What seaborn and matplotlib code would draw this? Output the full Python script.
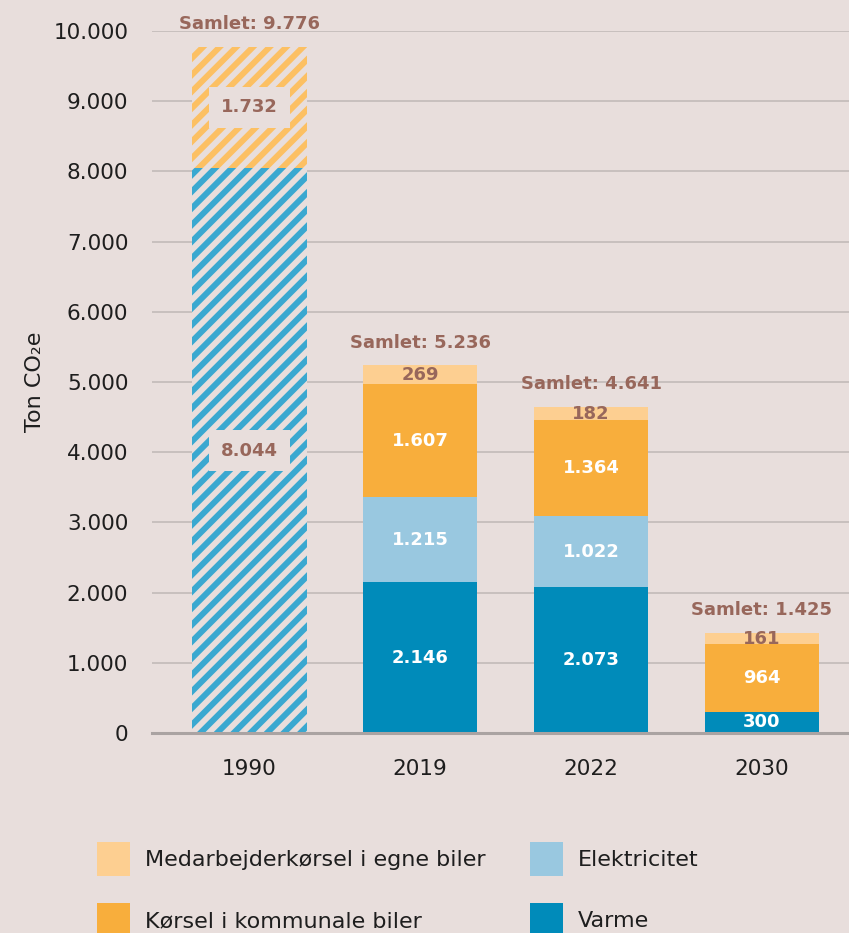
import numpy as np
import pandas as pd
import matplotlib as mpl
mpl.use("Agg")
import matplotlib.pyplot as plt
from matplotlib.patches import Patch
import seaborn as sns

# data
years = ["1990", "2019", "2022", "2030"]
stack_years = ["2019", "2022", "2030"]
varme = [2146, 2073, 300]
elektricitet = [1215, 1022, 0]
korsel = [1607, 1364, 964]
medarbejder = [269, 182, 161]
base_1990 = 8044
top_1990 = 1732
totals = [9776, 5236, 4641, 1425]

layers = ["Varme", "Elektricitet", "Kørsel i kommunale biler", "Medarbejderkørsel i egne biler"]
colors = {
    "Varme": "#008bba",
    "Elektricitet": "#99c8e0",
    "Kørsel i kommunale biler": "#f8ae3c",
    "Medarbejderkørsel i egne biler": "#fdcf91",
}
label_colors = {
    "Varme": "white",
    "Elektricitet": "white",
    "Kørsel i kommunale biler": "white",
    "Medarbejderkørsel i egne biler": "#98675b",
}
bg = "#e8dedc"
brown = "#98675b"
hatch_blue = "#3aa8d0"
hatch_orange = "#fcc063"

df = pd.DataFrame({"year": stack_years, "Varme": varme, "Elektricitet": elektricitet,
                   "Kørsel i kommunale biler": korsel,
                   "Medarbejderkørsel i egne biler": medarbejder})
cum = df[layers].cumsum(axis=1)

sns.set_theme(style="white")
plt.rcParams["font.family"] = ["DejaVu Sans"]
plt.rcParams["hatch.linewidth"] = 4.3

fig = plt.figure(figsize=(8.49, 9.33), dpi=100, facecolor=bg)
ax = fig.add_axes([0.179, 0.2144, 0.821, 0.7524])
ax.set_facecolor(bg)

bar_w = 0.67

# 1990, hatched, drawn top layer first then overlaid
for value, hcol in [(base_1990 + top_1990, hatch_orange), (base_1990, hatch_blue)]:
    n_before = len(ax.patches)
    sns.barplot(x=["1990"], y=[value], order=years, color=bg, width=bar_w,
                saturation=1, errorbar=None, ax=ax, zorder=2)
    for p in ax.patches[n_before:]:
        p.set_facecolor(bg)
        p.set_edgecolor(hcol)
        p.set_linewidth(0)
        p.set_hatch("//")

# stacked bars for the other years: cumulative sums, top layer first
for name in reversed(layers):
    sns.barplot(x=df["year"], y=cum[name], order=years, color=colors[name], width=bar_w,
                saturation=1, errorbar=None, linewidth=0, ax=ax, zorder=2)

def fmt(v):
    return f"{v:,}".replace(",", ".")

# segment labels
for i, yr in enumerate(stack_years):
    pos = years.index(yr)
    bottom = 0
    for name in layers:
        v = df.loc[i, name]
        if v > 0:
            ax.text(pos, bottom + v / 2, fmt(v), ha="center", va="center",
                    fontsize=13, fontweight="bold", color=label_colors[name], zorder=4)
        bottom += v

box = dict(boxstyle="square,pad=0.65", facecolor=bg, edgecolor="none")
ax.text(0, base_1990 / 2, fmt(base_1990), ha="center", va="center", fontsize=13,
        fontweight="bold", color=brown, bbox=box, zorder=4)
ax.text(0, base_1990 + top_1990 / 2, fmt(top_1990), ha="center", va="center", fontsize=13,
        fontweight="bold", color=brown, bbox=box, zorder=4)

# totals
for pos, t in enumerate(totals):
    ax.annotate(f"Samlet: {fmt(t)}", (pos, t), xytext=(0, 10), textcoords="offset points",
                ha="center", va="bottom", fontsize=13, fontweight="bold", color=brown,
                annotation_clip=False)

ax.set_ylim(0, 10000)
ax.set_xlim(-0.57, 3.51)
ax.set_yticks(np.arange(0, 10001, 1000))
ax.set_yticklabels([fmt(v) for v in range(0, 10001, 1000)])
ax.yaxis.grid(True, color="#c5bdbb", linewidth=1.3, zorder=0)
ax.set_axisbelow(True)
ax.tick_params(axis="both", length=0, labelsize=15.5, colors="#1e1e1e")
ax.tick_params(axis="y", pad=17)
ax.tick_params(axis="x", pad=19)
ax.set_xlabel("")
ax.set_ylabel("Ton CO₂e", fontsize=16, color="#1e1e1e", labelpad=6)
sns.despine(ax=ax, left=True, top=True, right=True)
ax.spines["bottom"].set_color("#aaa3a2")
ax.spines["bottom"].set_linewidth(2.2)
ax.spines["bottom"].set_zorder(3)

handles = [Patch(facecolor=colors[n], edgecolor="none") for n in
           ["Medarbejderkørsel i egne biler", "Kørsel i kommunale biler", "Elektricitet", "Varme"]]
labels = ["Medarbejderkørsel i egne biler", "Kørsel i kommunale biler", "Elektricitet", "Varme"]
fig.legend(handles, labels, loc="upper left", bbox_to_anchor=(97 / 849, 1 - 842 / 933),
           ncol=2, frameon=False, fontsize=16, handlelength=1.5, handleheight=1.95,
           handletextpad=0.65, labelspacing=1.25, columnspacing=2.0, borderpad=0,
           borderaxespad=0, labelcolor="#1e1e1e")

fig.savefig("out.png", dpi=100, facecolor=bg)
